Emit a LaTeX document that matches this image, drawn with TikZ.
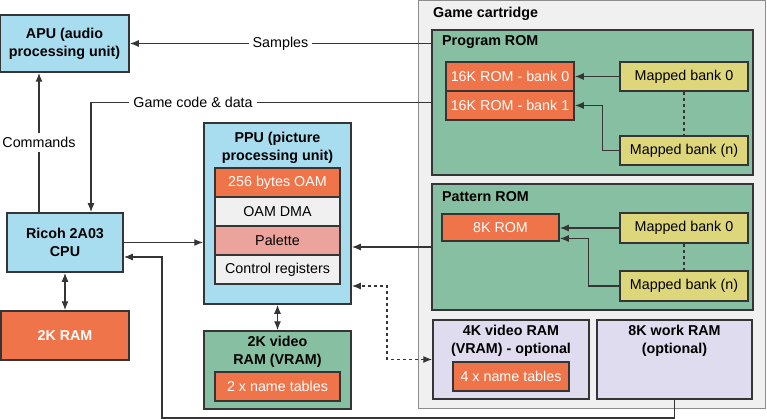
\documentclass[tikz,border=0pt]{standalone}
\usepackage{fontspec}
\setmainfont{Liberation Sans}
\usetikzlibrary{arrows.meta}
\definecolor{unitblue}{HTML}{A8DDF0}
\definecolor{romgreen}{HTML}{86BFA1}
\definecolor{memorange}{HTML}{F0744A}
\definecolor{bankyellow}{HTML}{DDD67B}
\definecolor{palpink}{HTML}{ECA39B}
\definecolor{reggray}{HTML}{F0F0F0}
\definecolor{optlilac}{HTML}{DEDCEE}
\definecolor{cartgray}{HTML}{F0F0F0}
\definecolor{edgegray}{HTML}{353535}
\definecolor{cartedge}{HTML}{8C8C8C}
\begin{document}
\begin{tikzpicture}[x=1pt, y=-1pt,
    every node/.style={font=\fontsize{14.3}{18}\selectfont},
    unit/.style={rectangle, draw=edgegray, line width=1.5pt, fill=unitblue, inner sep=0pt, align=center, font=\fontsize{14.3}{18}\selectfont\bfseries},
    mem/.style={rectangle, draw=edgegray, line width=1.5pt, fill=memorange, text=white, inner sep=0pt},
    row/.style={rectangle, draw=edgegray, line width=1.5pt, fill=reggray, inner sep=0pt, minimum width=125pt, minimum height=29pt},
    bank/.style={rectangle, draw=edgegray, line width=1.5pt, fill=bankyellow, inner sep=0pt, minimum width=128pt, minimum height=29pt},
    rom/.style={rectangle, draw=edgegray, line width=1.5pt, fill=romgreen, inner sep=0pt},
    opt/.style={rectangle, draw=edgegray, line width=1.5pt, fill=optlilac, inner sep=0pt},
    title/.style={align=center, inner sep=0pt, font=\fontsize{14.3}{18}\selectfont\bfseries},
    lbl/.style={fill=white, inner sep=4pt},
    conn/.style={draw=edgegray, line width=1.3pt, -{Latex[length=9pt,width=7pt]}},
    conn2/.style={draw=edgegray, line width=1.3pt, {Latex[length=9pt,width=7pt]}-{Latex[length=9pt,width=7pt]}}
]
\useasboundingbox (0,0) rectangle (767,419);

% Картридж
\node[rectangle, draw=cartedge, line width=1pt, fill=cartgray, minimum width=347pt, minimum height=407pt] (cart) at (591.5,204.5) {};
\node[title, anchor=west] (cart-title) at (433,14) {Game cartridge};

% Program ROM
\node[rom, minimum width=321pt, minimum height=145pt] (prgrom) at (592.5,102.5) {};
\node[title, anchor=west] (prgrom-title) at (442,42) {Program ROM};
\node[mem, minimum width=128pt, minimum height=29pt] (bank0) at (510,76.5) {16K ROM - bank 0};
\node[mem, minimum width=128pt, minimum height=29pt] (bank1) at (510,105.5) {16K ROM - bank 1};
\node[bank] (pmb0) at (684,76.5) {Mapped bank 0};
\node[bank] (pmbn) at (684,150.5) {Mapped bank (n)};

% Pattern ROM
\node[rom, minimum width=321pt, minimum height=126pt] (patrom) at (592.5,247) {};
\node[title, anchor=west] (patrom-title) at (442,197) {Pattern ROM};
\node[mem, minimum width=117pt, minimum height=27pt] (rom8) at (500.5,227.5) {8K ROM};
\node[bank, minimum height=30pt] (tmb0) at (684,228) {Mapped bank 0};
\node[bank, minimum height=30pt] (tmbn) at (684,286) {Mapped bank (n)};

% Дополнительная память
\node[opt, minimum width=156pt, minimum height=79pt] (vram4) at (511,359.5) {};
\node[title] (vram4-title) at (511,341) {4K video RAM\\(VRAM) - optional};
\node[mem, minimum width=116pt, minimum height=29pt] (tables4) at (511,376.5) {4 x name tables};
\node[opt, minimum width=155pt, minimum height=79pt] (wram) at (674.5,359.5) {};
\node[title] (wram-title) at (674.5,341) {8K work RAM\\(optional)};

% Консоль
\node[unit, minimum width=129pt, minimum height=57pt] (apu) at (64.5,43.5) {APU (audio\\processing unit)};
\node[unit, minimum width=116pt, minimum height=59pt] (cpu) at (65,242.5) {Ricoh 2A03\\CPU};
\node[mem, minimum width=128pt, minimum height=49pt, font=\fontsize{14.3}{18}\selectfont\bfseries] (ram) at (65,335.5) {2K RAM};

% PPU
\node[unit, minimum width=147pt, minimum height=181pt] (ppu) at (277.5,213.5) {};
\node[title] (ppu-title) at (277.5,148) {PPU (picture\\processing unit)};
\node[mem, minimum width=125pt, minimum height=29pt] (oam) at (277.5,182.5) {256 bytes OAM};
\node[row] (dma) at (277.5,211.5) {OAM DMA};
\node[row, fill=palpink] (pal) at (277.5,240.5) {Palette};
\node[row] (ctrl) at (277.5,269.5) {Control registers};

% VRAM
\node[rom, minimum width=147pt, minimum height=78pt] (vram2) at (277.5,370) {};
\node[title] (vram2-title) at (277.5,352) {2K video\\RAM (VRAM)};
\node[mem, minimum width=125pt, minimum height=29pt] (tables2) at (277.5,386.5) {2 x name tables};

% Связи внутри картриджа
\draw[conn] (pmb0.west) -- (bank0.east);
\draw[conn] (pmbn.west) -| ([xshift=28pt]bank1.east) -- (bank1.east);
\draw[draw=edgegray, line width=1.1pt, dashed] (pmb0.south) -- (pmbn.north);
\draw[conn] (tmb0.west) -- (tmb0.west -| rom8.east);
\draw[conn] (tmbn.west) -| ([xshift=29pt,yshift=-11pt]rom8.east) -- ([yshift=-11pt]rom8.east);
\draw[draw=edgegray, line width=1.1pt, dashed] (tmb0.south) -- (tmbn.north);

% Связи консоли
\draw[conn] (apu.east -| prgrom.west) -- node[lbl] {Samples} (apu.east);
\draw[conn] (prgrom.west) -| node[lbl, pos=0.35] {Game code \& data} ([xshift=26pt]cpu.north);
\draw[conn] (cpu.north -| 39,0) -- node[lbl] {Commands} (apu.south -| 39,0);
\draw[conn2] (cpu.south) -- (ram.north);
\draw[conn] (cpu.east) -- (cpu.east -| ppu.west);
\draw[conn2] (ppu.south) -- (vram2.north);
\draw[conn] (patrom.west) -- (patrom.west -| ppu.east);
\coordinate (dbend) at (387,286);
\draw[conn2, dashed] (vram4.west) -| (dbend) -- (dbend -| ppu.east);
\coordinate (loop) at (162,418);
\draw[conn] (wram.south) |- (loop) |- ([yshift=-14.5pt]cpu.east);
\end{tikzpicture}
\end{document}
